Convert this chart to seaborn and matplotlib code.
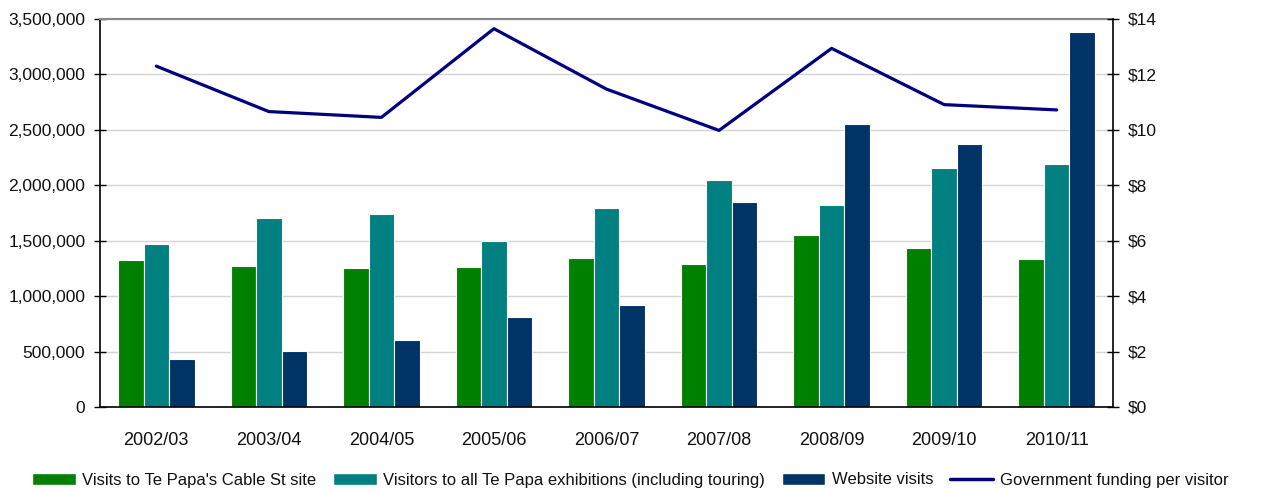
import pandas as pd
import numpy as np
import matplotlib
matplotlib.use("Agg")
import matplotlib.pyplot as plt
import seaborn as sns
from matplotlib.patches import Patch
from matplotlib.lines import Line2D
from matplotlib.ticker import FuncFormatter, FixedLocator

# Data
years = ["2002/03", "2003/04", "2004/05", "2005/06", "2006/07",
         "2007/08", "2008/09", "2009/10", "2010/11"]
cable_st = [1329000, 1275000, 1251000, 1263000, 1341000,
            1290000, 1549000, 1431000, 1332000]
all_exhibitions = [1468000, 1702000, 1738000, 1494000, 1792000,
                   2048000, 1819000, 2153000, 2192000]
website = [436000, 502000, 604000, 809000, 917000,
           1846000, 2553000, 2372000, 3380000]
funding = [12.30, 10.66, 10.45, 13.65, 11.47, 9.98, 12.94, 10.91, 10.72]

series_names = ["Visits to Te Papa's Cable St site",
                "Visitors to all Te Papa exhibitions (including touring)",
                "Website visits"]
line_name = "Government funding per visitor"
colors = ["#008000", "#008080", "#003366"]
line_color = "#000080"

df = pd.DataFrame({
    "year": years * 3,
    "visits": cable_st + all_exhibitions + website,
    "series": [series_names[0]] * 9 + [series_names[1]] * 9 + [series_names[2]] * 9,
})

sns.set_style("white")
plt.rcParams["font.family"] = ["Liberation Sans", "DejaVu Sans"]
plt.rcParams["text.color"] = "#111111"
plt.rcParams["xtick.color"] = "#111111"
plt.rcParams["ytick.color"] = "#111111"

fig = plt.figure(figsize=(12.61, 4.92), dpi=100)
ax = fig.add_axes([100 / 1261, 85 / 492, 1013 / 1261, 388 / 492])

sns.barplot(data=df, x="year", y="visits", hue="series", palette=colors,
            saturation=1, width=0.68, edgecolor="white", linewidth=0.8,
            ax=ax, legend=False)

ax.set_ylim(0, 3500000)
ax.set_xlim(-0.5, 8.5)
ax.set_yticks(np.arange(0, 3500001, 500000))
ax.yaxis.set_major_formatter(FuncFormatter(lambda v, p: f"{int(v):,}"))
ax.grid(axis="y", color="#d4d4d4", linewidth=1)
ax.set_axisbelow(True)
ax.set_xlabel("")
ax.set_ylabel("")

# category labels centred, ticks on the boundaries
ax.xaxis.set_major_locator(FixedLocator(np.arange(-0.5, 9, 1)))
ax.xaxis.set_minor_locator(FixedLocator(np.arange(0, 9, 1)))
ax.set_xticklabels([])
ax.set_xticklabels(years, minor=True)
ax.tick_params(axis="x", which="major", direction="inout", length=10, width=1, color="black")
ax.tick_params(axis="x", which="minor", length=0, pad=18, labelsize=13)
ax.tick_params(axis="y", direction="inout", length=9, width=1, color="black",
               labelsize=12.5, pad=6)

for s in ["left", "bottom"]:
    ax.spines[s].set_color("black")
    ax.spines[s].set_linewidth(1.2)
ax.spines["top"].set_color("#888888")
ax.spines["top"].set_linewidth(1.5)
ax.spines["right"].set_visible(False)

ax2 = ax.twinx()
sns.lineplot(x=years, y=funding, color=line_color, linewidth=2.3, ax=ax2)
ax2.set_ylim(0, 14)
ax2.set_xlim(-0.5, 8.5)
ax2.set_yticks(np.arange(0, 15, 2))
ax2.yaxis.set_major_formatter(FuncFormatter(lambda v, p: f"${int(v)}"))
ax2.tick_params(axis="y", direction="inout", length=9, width=1, color="black",
                labelsize=12.5, pad=6)
for s in ["left", "top", "bottom"]:
    ax2.spines[s].set_visible(False)
ax2.spines["right"].set_color("black")
ax2.spines["right"].set_linewidth(1.2)
ax2.grid(False)

handles = [Patch(facecolor=c, edgecolor="white") for c in colors]
handles.append(Line2D([0], [0], color=line_color, linewidth=2.5))
fig.legend(handles, series_names + [line_name], loc="center",
           bbox_to_anchor=(0.5, 12 / 492), ncol=4, frameon=False,
           fontsize=12, handlelength=2.6, handleheight=0.7,
           handletextpad=0.4, columnspacing=1.0)

fig.savefig("out.png", dpi=100)
